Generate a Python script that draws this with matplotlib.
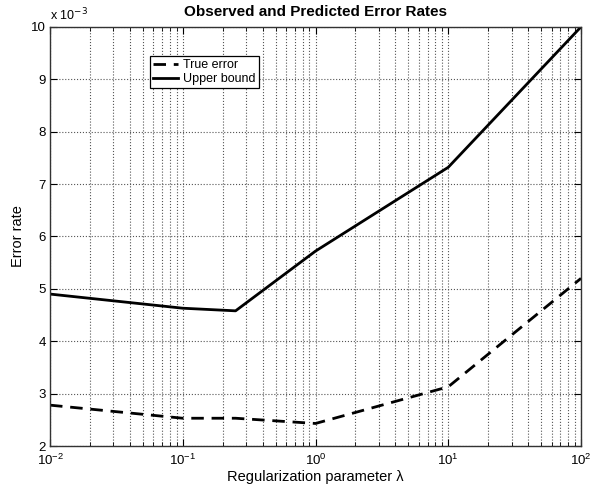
import numpy as np
import matplotlib.pyplot as plt
from matplotlib.ticker import FuncFormatter, LogLocator, NullFormatter

plt.rcParams['font.family'] = ['Liberation Sans', 'DejaVu Sans']

# regularization parameter values
lam = [0.01, 0.1, 0.25, 1, 10, 100]
# error rates (x 1e-3)
true_error = [2.78, 2.53, 2.53, 2.43, 3.13, 5.2]
upper_bound = [4.9, 4.63, 4.58, 5.72, 7.32, 10.0]

true_error = np.array(true_error) * 1e-3
upper_bound = np.array(upper_bound) * 1e-3

fig = plt.figure(figsize=(5.91, 4.84), dpi=100)
ax = fig.add_axes([0.0846, 0.0785, 0.8985, 0.866])

ax.plot(lam, true_error, 'k--', lw=2.0, dashes=(4.5, 2.8), label='True error')
ax.plot(lam, upper_bound, 'k-', lw=2.0, label='Upper bound')

ax.set_xscale('log')
ax.set_xlim(1e-2, 1e2)
ax.set_ylim(2e-3, 10e-3)
ax.set_yticks(np.arange(2, 11) * 1e-3)
ax.yaxis.set_major_formatter(FuncFormatter(lambda v, p: '%d' % round(v * 1e3)))
ax.xaxis.set_minor_locator(LogLocator(base=10, subs=np.arange(2, 10)))
ax.xaxis.set_minor_formatter(NullFormatter())

ax.grid(True, which='both', axis='x', ls=':', color='#555555', lw=0.8)
ax.grid(True, which='major', axis='y', ls=':', color='#555555', lw=0.8)

ax.tick_params(which='both', direction='in', top=True, right=True, labelsize=9.5, pad=3)
ax.tick_params(axis='x', which='major', pad=5)
ax.tick_params(which='major', length=5)
ax.tick_params(which='minor', length=3)
for s in ax.spines.values():
    s.set_linewidth(1.0)
    s.set_color('#333333')

ax.text(0.0, 1.008, r'x 10$^{-3}$', transform=ax.transAxes, fontsize=9,
        ha='left', va='bottom')
ax.set_title('Observed and Predicted Error Rates', fontsize=11, fontweight='bold', pad=8)
ax.set_xlabel('Regularization parameter λ', fontsize=10.5, labelpad=1)
ax.set_ylabel('Error rate', fontsize=10.5, labelpad=4)

leg = ax.legend(loc='upper left', bbox_to_anchor=(0.188, 0.93), fontsize=9,
                fancybox=False, framealpha=1, edgecolor='black',
                handlelength=2.0, borderpad=0.25, labelspacing=0.15,
                handletextpad=0.4, borderaxespad=0)
leg.get_frame().set_linewidth(0.9)

fig.savefig('out.png', dpi=100)
